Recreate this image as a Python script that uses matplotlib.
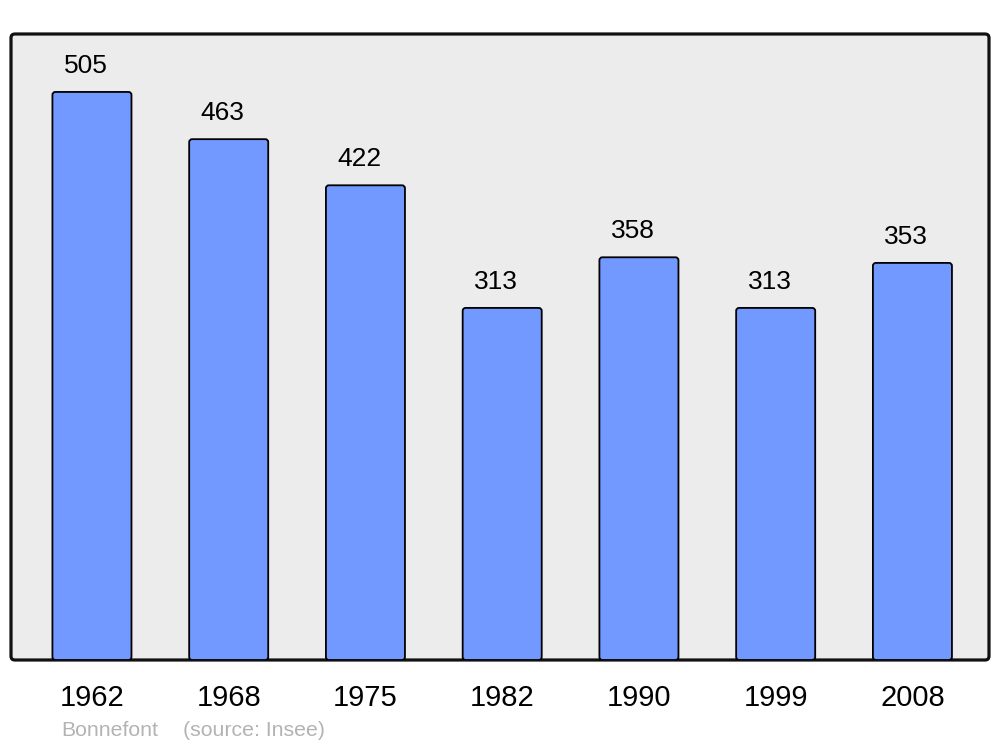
import matplotlib
matplotlib.use("Agg")
import matplotlib.pyplot as plt
from matplotlib.patches import FancyBboxPatch

years = ["1962", "1968", "1975", "1982", "1990", "1999", "2008"]
population = [505, 463, 422, 313, 358, 313, 353]

plt.rcParams['font.family'] = ['Liberation Sans', 'DejaVu Sans']

W, H = 1000, 747
ax_left, ax_bottom, ax_w, ax_h = 11, 660, 978, 626
fig = plt.figure(figsize=(W / 100, H / 100), dpi=100)
ax = fig.add_axes([ax_left / W, 1 - ax_bottom / H, ax_w / W, ax_h / H])
ax.set_facecolor('none')

xmin, xmax, ymax = -0.592, 6.56, 556.5
ax.set_xlim(xmin, xmax)
ax.set_ylim(0, ymax)

# rounded background frame
frame = FancyBboxPatch((0, 0), 1, 1, boxstyle="round,pad=0,rounding_size=0.004",
                       mutation_aspect=ax_w / ax_h, transform=ax.transAxes,
                       facecolor='#ececec', edgecolor='#111111', linewidth=2.3,
                       clip_on=False, zorder=0)
ax.add_patch(frame)

x = list(range(len(years)))
bars = ax.bar(x, population, width=0.578, visible=False)
px_x = (xmax - xmin) / ax_w
px_y = ymax / ax_h
r = 3 * px_x
for b in bars:
    p = FancyBboxPatch((b.get_x(), b.get_y()), b.get_width(), b.get_height(),
                       boxstyle=f"round,pad=0,rounding_size={r}",
                       mutation_aspect=px_y / px_x,
                       facecolor='#7299ff', edgecolor='black', linewidth=1.3,
                       zorder=2)
    ax.add_patch(p)

for xi, v in zip(x, population):
    ax.annotate(str(v), (xi, v), xytext=(-4.5, 10), textcoords='offset points',
                ha='center', va='bottom', fontsize=19, color='black')

ax.set_yticks([])
ax.set_xticks(x)
ax.set_xticklabels(years, fontsize=21)
ax.tick_params(axis='x', length=0, pad=17)
for s in ax.spines.values():
    s.set_visible(False)

fig.text(0.061, 1 - 730 / H, "Bonnefont", fontsize=15.3, color='#b3b3b3',
         ha='left', va='center')
fig.text(0.183, 1 - 730 / H, "(source: Insee)", fontsize=15.3, color='#b3b3b3',
         ha='left', va='center')

fig.savefig("out.png", dpi=100)
